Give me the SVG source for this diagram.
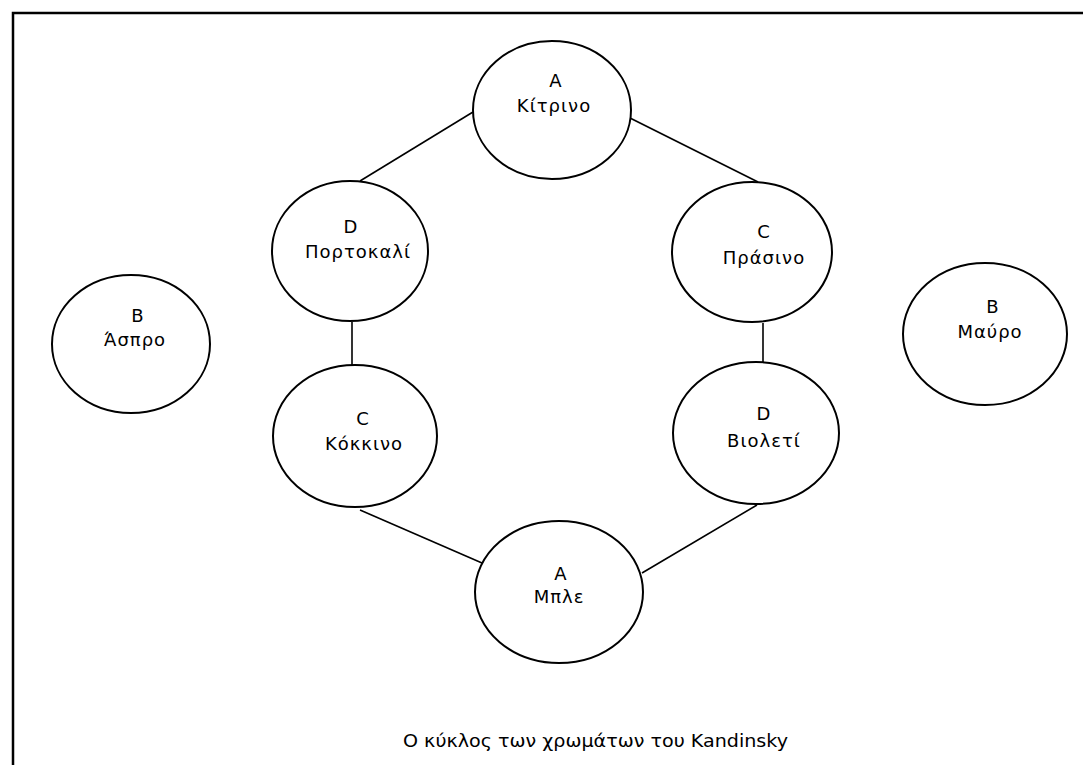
<svg xmlns="http://www.w3.org/2000/svg" width="1083" height="765" viewBox="0 0 1083 765">
<style>
.n ellipse{fill:#fff;stroke:#000;stroke-width:2}
.n text{font-family:"DejaVu Sans",sans-serif;font-size:18px;letter-spacing:1px;fill:#000;text-anchor:middle}
.c line{stroke:#000;stroke-width:1.6}
.cap{font-family:"DejaVu Sans",sans-serif;font-size:17px;fill:#000}
</style>
<rect width="1083" height="765" fill="#fff"/>
<path d="M13,765 V13 H1083" fill="none" stroke="#000" stroke-width="2.5"/>
<g id="connectors" class="c">
<line x1="473" y1="112" x2="360" y2="181"/>
<line x1="630" y1="118" x2="758" y2="182"/>
<line x1="352" y1="322" x2="352" y2="365"/>
<line x1="763" y1="323" x2="763" y2="362"/>
<line x1="360" y1="510" x2="482" y2="563"/>
<line x1="757" y1="505" x2="642" y2="573"/>
</g>
<g id="kitrino" class="n"><ellipse cx="552" cy="110" rx="79" ry="69"/><text x="556" y="87">A</text><text x="554" y="112">Κίτρινο</text></g>
<g id="portokali" class="n"><ellipse cx="350" cy="251" rx="78" ry="70"/><text x="351" y="233">D</text><text x="358" y="258">Πορτοκαλί</text></g>
<g id="prasino" class="n"><ellipse cx="752" cy="252" rx="80" ry="70"/><text x="764" y="238">C</text><text x="764" y="264">Πράσινο</text></g>
<g id="aspro" class="n"><ellipse cx="131" cy="344" rx="79" ry="69"/><text x="138" y="322">B</text><text x="135" y="346">Άσπρο</text></g>
<g id="mavro" class="n"><ellipse cx="985" cy="334" rx="82" ry="71"/><text x="993" y="313">B</text><text x="990" y="338">Μαύρο</text></g>
<g id="kokkino" class="n"><ellipse cx="355" cy="436" rx="82" ry="71"/><text x="363" y="425">C</text><text x="364" y="450">Κόκκινο</text></g>
<g id="violeti" class="n"><ellipse cx="756" cy="433" rx="83" ry="71"/><text x="764" y="420">D</text><text x="764" y="447">Βιολετί</text></g>
<g id="mple" class="n"><ellipse cx="559" cy="592" rx="84" ry="71"/><text x="561" y="580">A</text><text x="559" y="603">Μπλε</text></g>
<text class="cap" x="403" y="747" textLength="385" lengthAdjust="spacingAndGlyphs">Ο κύκλος των χρωμάτων του Kandinsky</text>
</svg>
